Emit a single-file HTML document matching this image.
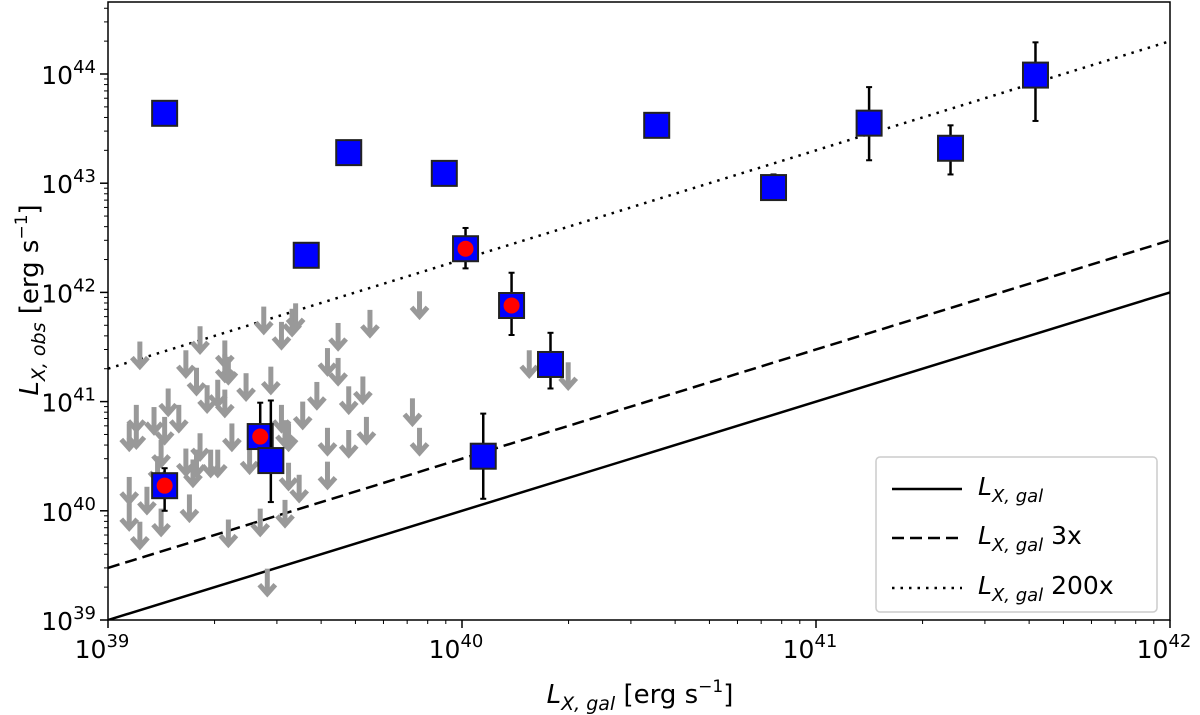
<!DOCTYPE html>
<html><head><meta charset="utf-8"><style>
body{margin:0;background:#fff;}
svg text{font-family:"DejaVu Sans","Liberation Sans",sans-serif;}
</style></head><body>
<svg id="chart" width="1200" height="715" xmlns="http://www.w3.org/2000/svg" style="position:absolute;left:0;top:0"></svg>
<script>
// log10 of L_X,gal and L_X,obs for upper limits
const limLgal=[39.09,39.26,39.33,39.22,39.44,39.49,39.52,39.53,39.65,39.74,39.88,39.62,39.65,39.33,39.34,39.25,39.28,39.31,39.33,39.39,39.46,39.17,39.08,39.13,39.20,39.16,39.15,39.59,39.68,39.72,39.55,39.49,39.50,39.35,39.26,39.22,39.25,39.29,39.31,39.24,39.06,39.08,39.06,39.11,39.15,39.09,39.23,39.34,39.43,39.50,39.51,39.54,39.62,39.62,39.68,39.73,39.86,39.88,39.45,39.14,39.40,39.51,39.06,40.19,40.30];
const limLobs=[41.55,41.69,41.56,41.47,41.87,41.73,41.85,41.90,41.72,41.84,42.01,41.49,41.40,41.43,41.41,41.31,41.15,41.20,41.11,41.26,41.32,41.12,40.97,40.95,40.97,40.86,40.65,41.18,41.14,41.23,41.00,40.97,40.83,40.80,40.71,40.57,40.56,40.56,40.56,40.47,40.80,40.82,40.31,40.22,40.02,39.90,40.15,39.92,40.02,40.10,40.44,40.33,40.45,40.76,40.74,40.86,41.03,40.76,39.47,40.50,40.59,40.80,40.07,41.47,41.36];
// detections (log10)
const detLgal=[39.16,39.68,39.95,39.56,40.01,40.14,40.25,40.55,40.88,41.15,41.38,41.62,40.06,39.16,39.43,39.46];
const detLobs=[43.64,43.28,43.09,42.34,42.40,41.88,41.34,43.53,42.96,43.55,43.32,43.99,40.50,40.23,40.68,40.46];
const detHi=[43.64,43.28,43.09,42.34,42.59,42.18,41.63,43.53,43.08,43.88,43.53,44.29,40.89,40.39,40.99,41.01];
const detLo=[43.64,43.28,43.09,42.34,42.22,41.61,41.12,43.53,42.85,43.21,43.08,43.57,40.11,40.00,40.68,40.08];
const detRed=[0,0,0,0,1,1,0,0,0,0,0,0,0,1,1,0];
const xTicks=[39,40,41,42];
const yTicks=[39,40,41,42,43,44];
const lineFactors=[1,3,200];

const NS='http://www.w3.org/2000/svg';
const svg=document.getElementById('chart');
const X0=108,X1=1170,Y0=620,Y1=2;
const xMin=39,xMax=42,yMin=39,yMax=39+(620-2)/109.2;
const sx=v=>X0+(v-xMin)/(xMax-xMin)*(X1-X0);
const sy=v=>Y0-(v-yMin)/(yMax-yMin)*(Y0-Y1);
function mk(tag,attrs,parent){const e=document.createElementNS(NS,tag);for(const k in attrs)e.setAttribute(k,attrs[k]);(parent||svg).appendChild(e);return e;}

const clip=mk('clipPath',{id:'pc'});mk('rect',{x:X0,y:Y1,width:X1-X0,height:Y0-Y1},clip);
const plot=mk('g',{'clip-path':'url(#pc)'});



const dashes=['none','12,6','2.5,6'];
const lnames=['line-1x','line-3x','line-200x'];
lineFactors.forEach((f,i)=>{
  const lf=Math.log10(f);
  const l=mk('line',{x1:sx(39),y1:sy(39+lf),x2:sx(42),y2:sy(42+lf),stroke:'#000','stroke-width':2.5,'stroke-dasharray':dashes[i]},plot);
  
  
});

limLgal.forEach((lx,i)=>{
  const x=sx(lx),y=sy(limLobs[i]);
  const g=mk('g',{stroke:'#999','stroke-width':5,fill:'none','stroke-linecap':'butt','stroke-linejoin':'miter'},plot);
  
  
  mk('line',{x1:x,y1:y,x2:x,y2:y+26},g);
  mk('polyline',{points:`${x-8},${y+16} ${x},${y+25} ${x+8},${y+16}`},g);
});

detLgal.forEach((lx,i)=>{
  const x=sx(lx),y=sy(detLobs[i]);
  const g=mk('g',{},plot);
  
  
  const yh=sy(detHi[i]),yl=sy(detLo[i]);
  if(yl-yh>2){
    mk('line',{x1:x,y1:yh,x2:x,y2:yl,stroke:'#000','stroke-width':2.5},g);
    mk('line',{x1:x-3,y1:yh,x2:x+3,y2:yh,stroke:'#000','stroke-width':2},g);
    mk('line',{x1:x-3,y1:yl,x2:x+3,y2:yl,stroke:'#000','stroke-width':2},g);
  }
  mk('rect',{x:x-12.5,y:y-12.5,width:25,height:25,fill:'#0000ff',stroke:'#222','stroke-width':2},g);
  if(detRed[i]) mk('circle',{cx:x,cy:y,r:8,fill:'#ff0000'},g);
});

const fr=mk('rect',{x:X0,y:Y1,width:X1-X0,height:Y0-Y1,fill:'none',stroke:'#000','stroke-width':1.5});



const xa=mk('g',{});
xTicks.forEach(t=>{
  const x=sx(t);
  mk('line',{x1:x,y1:Y0,x2:x,y2:Y0+8,stroke:'#000','stroke-width':1.5},xa);
  const tx=mk('text',{x:x-6,y:Y0+38,'font-size':25,'text-anchor':'middle'},xa);
  
  
  tx.innerHTML=`10<tspan dy="-11" font-size="18">${t}</tspan>`;
  if(t<42) for(let m=2;m<10;m++){const xm=sx(t+Math.log10(m));mk('line',{x1:xm,y1:Y0,x2:xm,y2:Y0+4,stroke:'#000','stroke-width':1},xa);}
});
const ya=mk('g',{});
yTicks.forEach(t=>{
  const y=sy(t);
  mk('line',{x1:X0-8,y1:y,x2:X0,y2:y,stroke:'#000','stroke-width':1.5},ya);
  const tx=mk('text',{x:X0-12,y:y+10,'font-size':25,'text-anchor':'end'},ya);
  
  
  tx.innerHTML=`10<tspan dy="-11" font-size="18">${t}</tspan>`;
  for(let m=2;m<10;m++){const v=t+Math.log10(m);if(v>yMax)break;const ym=sy(v);mk('line',{x1:X0-4,y1:ym,x2:X0,y2:ym,stroke:'#000','stroke-width':1},ya);}
});
</script>
<svg style="position:absolute;left:0;top:0" width="1200" height="715" xmlns="http://www.w3.org/2000/svg">
<text x="640" y="703" font-size="26" text-anchor="middle"><tspan font-style="italic">L</tspan><tspan font-style="italic" font-size="19" dy="7">X, gal</tspan><tspan dy="-7">  [erg s</tspan><tspan font-size="17" dy="-11">−1</tspan><tspan dy="11">]</tspan></text>
<text transform="translate(38,300) rotate(-90)" font-size="26" text-anchor="middle"><tspan font-style="italic">L</tspan><tspan font-style="italic" font-size="19" dy="7">X, obs</tspan><tspan dy="-7">  [erg s</tspan><tspan font-size="17" dy="-11">−1</tspan><tspan dy="11">]</tspan></text>
<g>
<rect x="876" y="457" width="281" height="155" rx="4" fill="#fff" stroke="#ccc" stroke-width="1.5"/>
<line x1="892" y1="489" x2="962" y2="489" stroke="#000" stroke-width="2.5"/>
<line x1="892" y1="538" x2="962" y2="538" stroke="#000" stroke-width="2.5" stroke-dasharray="12,6"/>
<line x1="892" y1="588" x2="962" y2="588" stroke="#000" stroke-width="2.5" stroke-dasharray="2.5,6"/>
<text x="978" y="495" font-size="25"><tspan font-style="italic">L</tspan><tspan font-style="italic" font-size="18" dy="7">X, gal</tspan></text>
<text x="978" y="544" font-size="25"><tspan font-style="italic">L</tspan><tspan font-style="italic" font-size="18" dy="7">X, gal</tspan><tspan dy="-7"> 3x</tspan></text>
<text x="978" y="594" font-size="25"><tspan font-style="italic">L</tspan><tspan font-style="italic" font-size="18" dy="7">X, gal</tspan><tspan dy="-7"> 200x</tspan></text>
</g>
</svg>
</body></html>
